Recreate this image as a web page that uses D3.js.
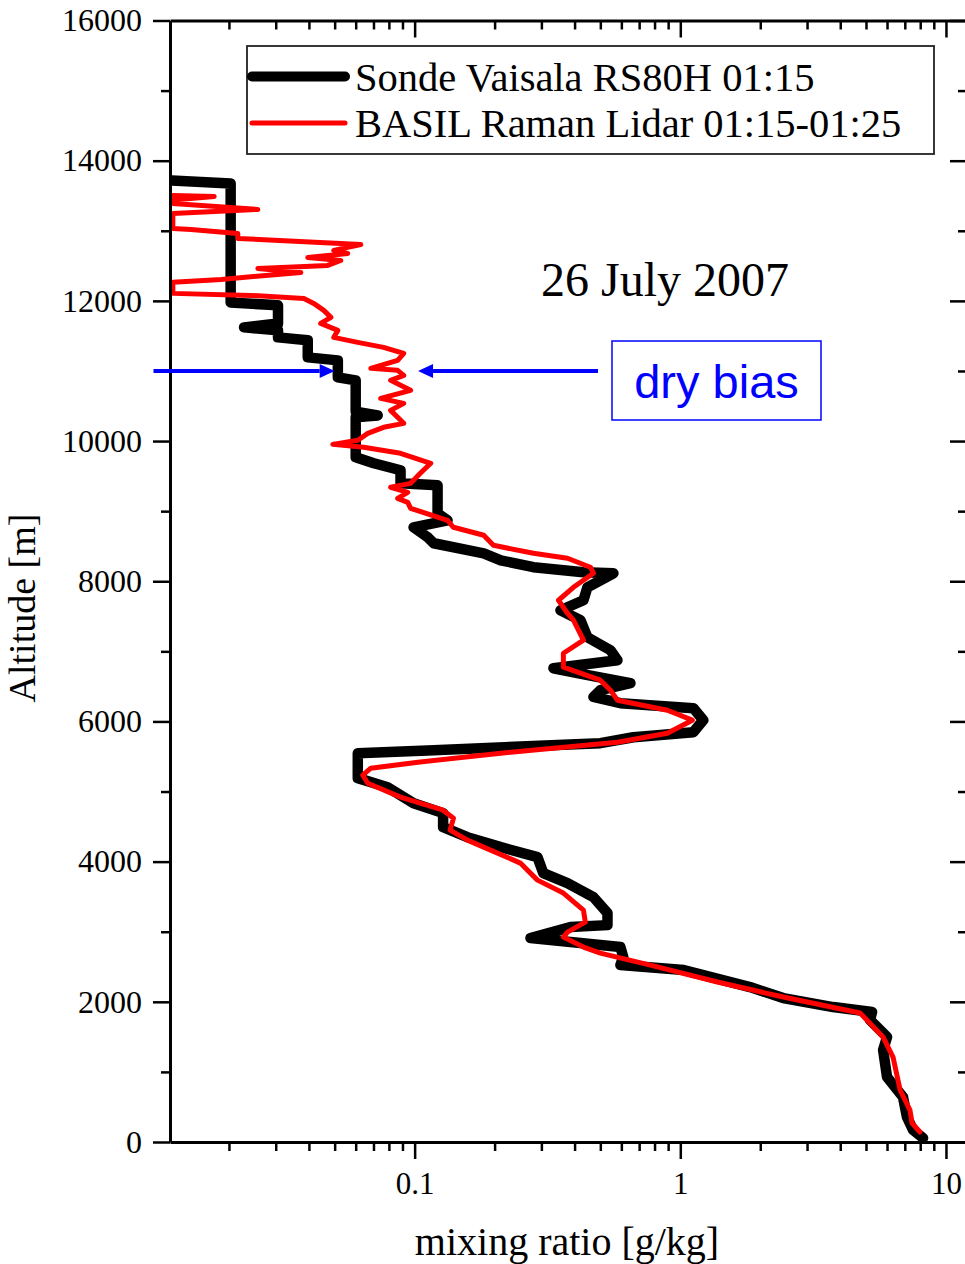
<!DOCTYPE html>
<html>
<head>
<meta charset="utf-8">
<script src="https://cdn.jsdelivr.net/npm/d3@7"></script>
<style>
  html, body { margin: 0; padding: 0; background: #fff; }
  svg { display: block; }
</style>
</head>
<body>
<svg id="chart" width="965" height="1264"></svg>
<script>
// ---------------- DATA ----------------
const xDomain = [0.012, 12];
const yDomain = [0, 16000];
const xMajorTicks = [0.1, 1, 10];
const xMajorLabels = ["0.1", "1", "10"];
const xMinorTicks = [0.02,0.03,0.04,0.05,0.06,0.07,0.08,0.09,0.2,0.3,0.4,0.5,0.6,0.7,0.8,0.9,2,3,4,5,6,7,8,9];
const yMajorTicks = [0, 2000, 4000, 6000, 8000, 10000, 12000, 14000, 16000];
const yMajorLabels = ["0", "2000", "4000", "6000", "8000", "10000", "12000", "14000", "16000"];
const yMinorTicks = [1000, 3000, 5000, 7000, 9000, 11000, 13000, 15000];

const seriesNames = ["Sonde Vaisala RS80H 01:15", "BASIL Raman Lidar 01:15-01:25"];
const annotationDate = "26 July 2007";
const annotationBias = "dry bias";
const biasAltitude = 11000;
const biasArrowTips = [0.05, 0.103];   // mixing ratio where arrows point
const biasArrowTails = [0.0104, 0.49];

// Sonde (black) : mixing ratio [g/kg], altitude [m]
const sondeMR = [8.2, 7.52, 7.13, 6.89, 6.00, 5.80, 6.00, 5.18, 5.27, 3.76, 2.44, 1.83, 1.03, 0.595, 0.61, 0.595,
  0.273, 0.386, 0.532, 0.532, 0.471, 0.376, 0.305, 0.29, 0.211, 0.158, 0.128, 0.128, 0.0991, 0.0791, 0.0611, 0.0611,
  0.118, 0.5, 0.666, 1.12, 1.22, 1.12, 0.595, 0.471, 0.5, 0.649, 0.41, 0.333, 0.58, 0.546, 0.447, 0.421, 0.354,
  0.432, 0.447, 0.56, 0.432, 0.28, 0.211, 0.182, 0.118, 0.112, 0.0991, 0.133, 0.122, 0.122, 0.0885, 0.0885, 0.0702,
  0.060, 0.060, 0.060, 0.0726, 0.060, 0.060, 0.0514, 0.0514, 0.0396, 0.0396, 0.0306, 0.0306, 0.0228, 0.0306, 0.0306,
  0.0203, 0.0203, 0.0122];
const sondeAlt = [57, 171, 357, 642, 927, 1312, 1497, 1740, 1854, 1925, 2053, 2210, 2453, 2524, 2638, 2781,
  2909, 3066, 3094, 3266, 3494, 3693, 3836, 4064, 4207, 4349, 4492, 4692, 4834, 5062, 5191, 5547,
  5590, 5690, 5775, 5847, 6018, 6189, 6260, 6350, 6446, 6545, 6688, 6759, 6873, 7016, 7201, 7444, 7586,
  7729, 7914, 8114, 8128, 8200, 8299, 8399, 8542, 8627, 8770, 8870, 8970, 9369, 9397, 9583, 9683,
  9768, 10296, 10340, 10366, 10420, 10866, 10909, 11151, 11194, 11437, 11479, 11579, 11622, 11679, 11936,
  11978, 13676, 13718];

// BASIL Raman lidar (red)
const lidarMR = [7.98, 7.45, 7.32, 6.72, 6.32, 5.80, 4.75, 2.44, 1.38, 0.771, 0.5, 0.432, 0.363, 0.376, 0.439, 0.432,
  0.363, 0.29, 0.25, 0.236, 0.158, 0.136, 0.14, 0.128, 0.0885, 0.0666, 0.0638, 0.0684, 0.103, 0.211, 0.58, 0.894,
  1.11, 0.894, 0.58, 0.546, 0.5, 0.363, 0.363, 0.432, 0.396, 0.376, 0.348, 0.396, 0.471, 0.459, 0.376, 0.28,
  0.198, 0.182, 0.14, 0.133, 0.0966, 0.0942, 0.0863, 0.0942, 0.0812, 0.0966, 0.105, 0.115, 0.0885, 0.0643, 0.0492,
  0.0611, 0.0666, 0.0764, 0.091, 0.0812, 0.091, 0.0745, 0.0966, 0.0812, 0.091, 0.0863, 0.0684, 0.0863, 0.091,
  0.0764, 0.0611, 0.0496, 0.0514, 0.0443, 0.0484, 0.0455, 0.0417, 0.0383, 0.0242, 0.0123, 0.0123, 0.0187, 0.0373,
  0.0257, 0.0471, 0.0527, 0.0396, 0.056, 0.0496, 0.0627, 0.0216, 0.0216, 0.0144, 0.0123, 0.0123, 0.0257, 0.0123,
  0.0123, 0.0176, 0.0123];
const lidarAlt = [143, 271, 456, 742, 1212, 1497, 1840, 2068, 2282, 2524, 2695, 2781, 2923, 2995, 3137, 3308,
  3551, 3736, 3979, 4021, 4307, 4449, 4620, 4734, 4920, 5119, 5233, 5333, 5419, 5547, 5704, 5832,
  6018, 6160, 6303, 6446, 6588, 6774, 6973, 7159, 7444, 7544, 7729, 7914, 8114, 8200, 8328, 8399,
  8513, 8656, 8770, 8870, 9041, 9126, 9183, 9269, 9340, 9397, 9540, 9683, 9825, 9911, 9953,
  10011, 10110, 10196, 10253, 10438, 10538, 10609, 10724, 10866, 10937, 11009, 11037, 11151, 11251,
  11337, 11408, 11479, 11579, 11679, 11765, 11864, 11964, 12035, 12078, 12107, 12264, 12306, 12406,
  12463, 12506, 12577, 12620, 12677, 12720, 12805, 12891, 12962, 13019, 13034, 13248, 13305, 13390,
  13440, 13490, 13504];

// ---------------- CHART ----------------
const svg = d3.select("#chart");
const m = { left: 170, right: 967, top: 20.5, bottom: 1142 };
const serif = "'Liberation Serif', 'Times New Roman', serif";

const x = d3.scaleLog().domain(xDomain).range([m.left, m.right]);
const y = d3.scaleLinear().domain(yDomain).range([m.bottom, m.top]);

svg.append("defs").append("clipPath").attr("id", "clip")
  .append("rect").attr("x", m.left).attr("y", m.top)
  .attr("width", m.right - m.left).attr("height", m.bottom - m.top);

const sonde = sondeMR.map((v, i) => [v, sondeAlt[i]]);
const lidar = lidarMR.map((v, i) => [v, lidarAlt[i]]);
const line = d3.line().x(d => x(d[0])).y(d => y(d[1]));

const plot = svg.append("g").attr("clip-path", "url(#clip)");
plot.append("path").datum(sonde).attr("d", line)
  .attr("fill", "none").attr("stroke", "#000").attr("stroke-width", 10.5)
  .attr("stroke-linejoin", "round").attr("stroke-linecap", "round");
plot.append("path").datum(lidar).attr("d", line)
  .attr("fill", "none").attr("stroke", "#ff0000").attr("stroke-width", 5)
  .attr("stroke-linejoin", "round").attr("stroke-linecap", "round");

// axes helper
function styleAxis(g, fs) {
  g.select(".domain").attr("stroke", "#000").attr("stroke-width", 3);
  g.selectAll(".tick line").attr("stroke", "#000").attr("stroke-width", 2.5);
  g.selectAll(".tick text").attr("font-family", serif).attr("font-size", fs).attr("fill", "#000");
}

// bottom
const gB = svg.append("g").attr("transform", `translate(0,${m.bottom})`)
  .call(d3.axisBottom(x).tickValues(xMajorTicks).tickFormat((d, i) => xMajorLabels[i])
    .tickSize(17).tickPadding(13).tickSizeOuter(0));
styleAxis(gB, 31);
const gBm = svg.append("g").attr("transform", `translate(0,${m.bottom})`)
  .call(d3.axisBottom(x).tickValues(xMinorTicks).tickFormat("").tickSize(9).tickSizeOuter(0));
styleAxis(gBm, 31);
gBm.select(".domain").remove();

// top (inward ticks)
const gT = svg.append("g").attr("transform", `translate(0,${m.top})`)
  .call(d3.axisBottom(x).tickValues(xMajorTicks).tickFormat("").tickSize(17).tickSizeOuter(0));
styleAxis(gT, 31);
const gTm = svg.append("g").attr("transform", `translate(0,${m.top})`)
  .call(d3.axisBottom(x).tickValues(xMinorTicks).tickFormat("").tickSize(9).tickSizeOuter(0));
styleAxis(gTm, 31);
gTm.select(".domain").remove();

// left
const gL = svg.append("g").attr("transform", `translate(${m.left},0)`)
  .call(d3.axisLeft(y).tickValues(yMajorTicks).tickFormat((d, i) => yMajorLabels[i])
    .tickSize(17).tickPadding(11).tickSizeOuter(0));
styleAxis(gL, 32);
const gLm = svg.append("g").attr("transform", `translate(${m.left},0)`)
  .call(d3.axisLeft(y).tickValues(yMinorTicks).tickFormat("").tickSize(9).tickSizeOuter(0));
styleAxis(gLm, 32);
gLm.select(".domain").remove();

// right (inward ticks)
const gR = svg.append("g").attr("transform", `translate(${m.right},0)`)
  .call(d3.axisLeft(y).tickValues(yMajorTicks).tickFormat("").tickSize(17).tickSizeOuter(0));
styleAxis(gR, 32);
const gRm = svg.append("g").attr("transform", `translate(${m.right},0)`)
  .call(d3.axisLeft(y).tickValues(yMinorTicks).tickFormat("").tickSize(9).tickSizeOuter(0));
styleAxis(gRm, 32);
gRm.select(".domain").remove();

// axis titles
svg.append("text").attr("x", 567).attr("y", 1255).attr("text-anchor", "middle")
  .attr("font-family", serif).attr("font-size", 40).text("mixing ratio [g/kg]");
svg.append("text").attr("transform", "translate(35,608) rotate(-90)").attr("text-anchor", "middle")
  .attr("font-family", serif).attr("font-size", 38).text("Altitude [m]");

// legend
const leg = svg.append("g");
leg.append("rect").attr("x", 247).attr("y", 46).attr("width", 687).attr("height", 108)
  .attr("fill", "#fff").attr("stroke", "#222").attr("stroke-width", 1.8);
const legItems = [
  { name: seriesNames[0], color: "#000", w: 10, y: 76.5 },
  { name: seriesNames[1], color: "#ff0000", w: 5, y: 123 }
];
legItems.forEach(it => {
  leg.append("line").attr("x1", 252).attr("x2", 345).attr("y1", it.y).attr("y2", it.y)
    .attr("stroke", it.color).attr("stroke-width", it.w).attr("stroke-linecap", "round");
  leg.append("text").attr("x", 355).attr("y", it.y + 14)
    .attr("font-family", serif).attr("font-size", 40.5).text(it.name);
});

// date annotation
svg.append("text").attr("x", 541).attr("y", 296).attr("font-family", serif)
  .attr("font-size", 48).text(annotationDate);

// dry bias box
svg.append("rect").attr("x", 612).attr("y", 341).attr("width", 209).attr("height", 79)
  .attr("fill", "#fff").attr("stroke", "#0000ff").attr("stroke-width", 1.5);
svg.append("text").attr("x", 716.5).attr("y", 398).attr("text-anchor", "middle")
  .attr("font-family", "'Liberation Sans', Arial, sans-serif").attr("font-size", 47)
  .attr("fill", "#0000ff").text(annotationBias);

// arrows
const ay = y(biasAltitude);
function arrow(tailX, tipX) {
  const dir = Math.sign(tipX - tailX);
  const headLen = 15, headHalf = 7;
  svg.append("line").attr("x1", tailX).attr("x2", tipX - dir * headLen).attr("y1", ay).attr("y2", ay)
    .attr("stroke", "#0000ff").attr("stroke-width", 4);
  svg.append("path")
    .attr("d", `M${tipX},${ay} L${tipX - dir * headLen},${ay - headHalf} L${tipX - dir * headLen},${ay + headHalf} Z`)
    .attr("fill", "#0000ff");
}
arrow(x(biasArrowTails[0]), x(biasArrowTips[0]));
arrow(x(biasArrowTails[1]), x(biasArrowTips[1]));
</script>
</body>
</html>
